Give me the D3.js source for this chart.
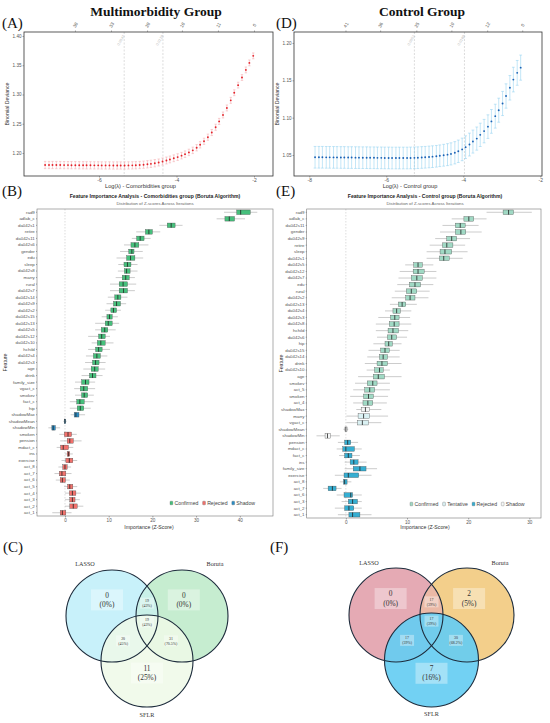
<!DOCTYPE html>
<html lang="en"><head><meta charset="utf-8">
<title>LASSO / Boruta / SFLR feature selection</title>
<script src="https://d3js.org/d3.v7.min.js"></script>
<style>
body{margin:0;background:#fff}
</style>
</head><body>
<script>
// ---------- LASSO CV curves ----------
var lamA = [-7.39,-7.29,-7.20,-7.10,-7.00,-6.90,-6.80,-6.71,-6.61,-6.51,
  -6.41,-6.32,-6.22,-6.12,-6.02,-5.93,-5.83,-5.73,-5.63,-5.53,
  -5.44,-5.34,-5.24,-5.14,-5.05,-4.95,-4.85,-4.75,-4.66,-4.56,
  -4.46,-4.36,-4.26,-4.17,-4.07,-3.97,-3.87,-3.78,-3.68,-3.58,
  -3.48,-3.39,-3.29,-3.19,-3.09,-2.99,-2.90,-2.80,-2.70,-2.60,
  -2.51,-2.41,-2.31,-2.21,-2.12,-2.02];
var devA = [1.1795,1.1795,1.1795,1.1794,1.1794,1.1793,1.1793,1.1792,1.1792,1.1791,
  1.1791,1.1790,1.1790,1.1789,1.1789,1.1788,1.1788,1.1788,1.1787,1.1787,
  1.1787,1.1787,1.1788,1.1789,1.1791,1.1795,1.1800,1.1807,1.1815,1.1825,
  1.1838,1.1855,1.1872,1.1890,1.1910,1.1930,1.1955,1.1980,1.2010,1.2045,
  1.2090,1.2140,1.2200,1.2270,1.2350,1.2440,1.2540,1.2650,1.2770,1.2900,
  1.3030,1.3160,1.3290,1.3420,1.3540,1.3660];
var sdA = [0.0062,0.0062,0.0062,0.0062,0.0062,0.0062,0.0062,0.0062,0.0062,0.0062,
  0.0062,0.0062,0.0062,0.0062,0.0062,0.0062,0.0062,0.0062,0.0062,0.0062,
  0.0062,0.0062,0.0062,0.0062,0.0062,0.0062,0.0062,0.0062,0.0062,0.0062,
  0.0060,0.0060,0.0059,0.0058,0.0058,0.0057,0.0056,0.0056,0.0055,0.0055,
  0.0054,0.0054,0.0053,0.0053,0.0052,0.0052,0.0052,0.0051,0.0051,0.0051,
  0.0050,0.0050,0.0050,0.0050,0.0050,0.0050];
var topTickA = [-6.62,-5.69,-4.76,-3.86,-2.93,-2.0];
var topLabA = ["38","33","28","18","11","0"];
var vlineA = [-5.35,-4.35];

var lamD = [-7.85,-7.75,-7.66,-7.56,-7.47,-7.37,-7.28,-7.18,-7.09,-6.99,
  -6.90,-6.80,-6.71,-6.61,-6.51,-6.42,-6.32,-6.23,-6.13,-6.04,
  -5.94,-5.85,-5.75,-5.66,-5.56,-5.46,-5.37,-5.27,-5.18,-5.08,
  -4.99,-4.89,-4.80,-4.70,-4.61,-4.51,-4.41,-4.32,-4.22,-4.13,
  -4.03,-3.94,-3.84,-3.75,-3.65,-3.56,-3.46,-3.36,-3.27,-3.17,
  -3.08,-2.98,-2.89,-2.79,-2.70,-2.60,-2.51];
var devD = [1.0470,1.0470,1.0470,1.0469,1.0469,1.0468,1.0468,1.0467,1.0467,1.0466,
  1.0466,1.0465,1.0465,1.0464,1.0464,1.0463,1.0463,1.0462,1.0462,1.0461,
  1.0461,1.0460,1.0460,1.0460,1.0460,1.0460,1.0461,1.0462,1.0464,1.0467,
  1.0470,1.0474,1.0478,1.0483,1.0490,1.0497,1.0505,1.0515,1.0530,1.0550,
  1.0575,1.0605,1.0640,1.0680,1.0720,1.0770,1.0820,1.0880,1.0950,1.1020,
  1.1100,1.1190,1.1290,1.1400,1.1510,1.1600,1.1670];
var sdD = [0.0145,0.0145,0.0145,0.0145,0.0145,0.0145,0.0145,0.0145,0.0145,0.0145,
  0.0145,0.0145,0.0145,0.0145,0.0145,0.0145,0.0145,0.0145,0.0145,0.0145,
  0.0145,0.0145,0.0145,0.0145,0.0145,0.0145,0.0145,0.0145,0.0145,0.0145,
  0.0145,0.0145,0.0145,0.0145,0.0145,0.0146,0.0147,0.0148,0.0149,0.0150,
  0.0151,0.0152,0.0153,0.0154,0.0155,0.0156,0.0157,0.0158,0.0159,0.0160,
  0.0161,0.0162,0.0163,0.0164,0.0165,0.0166,0.0168];
var topTickD = [-7.06,-6.16,-5.22,-4.31,-3.38,-2.47];
var topLabD = ["41","36","25","19","12","0"];
var vlineD = [-5.27,-3.97];

// ---------- Boruta Z-scores: [whisker lo, q1, median, q3, whisker hi] ----------
var featB = ["rad9","adlab_c","da042s1","retire","da042s11","da042s6","gender","edu","sleep","da042s8",
  "marry","rural","da042s7","da042s14","da042s9","da042s2","da042s15","da042s13","da042s5","da042s12",
  "da042s10","hchild","da042s4","da042s3","age","drink","family_size","vgact_c","smokev","fact_c",
  "hip","shadowMax","shadowMean","shadowMin","smoken","pension","mdact_c","ins","exercise","act_8",
  "act_7","act_6","act_5","act_4","act_3","act_2","act_1"];
var zB = [[36.4,39.3,40.2,42.4,44.0],[34.7,36.6,37.6,38.8,41.2],[21.6,23.4,24.3,25.2,26.9],[16.3,18.4,19.2,20.0,21.8],
  [15.3,16.4,17.2,18.1,19.6],[13.5,15.1,16.0,16.9,19.1],[12.6,14.6,15.3,15.8,17.8],[11.8,14.1,15.0,16.0,17.9],
  [12.2,13.5,14.3,15.1,16.6],[12.1,13.6,14.1,14.9,16.6],[11.6,13.1,13.9,14.7,16.0],[10.3,12.4,13.3,14.3,16.3],
  [10.3,12.4,13.4,14.3,16.0],[9.8,11.4,12.1,12.8,14.3],[9.5,11.1,11.8,12.7,14.0],[9.2,10.5,11.1,11.8,12.8],
  [8.4,9.6,10.2,10.8,12.1],[6.9,9.2,9.9,10.8,12.4],[6.9,8.3,9.1,9.8,11.6],[5.3,7.7,8.4,9.2,10.3],
  [6.1,7.4,8.2,9.2,11.1],[5.3,7.0,7.7,8.5,10.3],[4.8,6.5,7.3,8.1,9.7],[4.6,6.3,7.0,7.8,9.3],
  [4.2,6.0,6.8,7.6,9.2],[3.8,5.6,6.3,7.1,8.6],[2.3,3.8,4.7,5.5,6.9],[2.1,3.5,4.3,5.2,6.9],
  [2.3,3.8,4.4,5.2,6.6],[1.1,2.7,3.4,4.4,6.5],[1.1,2.8,3.5,4.3,5.9],[1.3,2.1,2.5,3.2,4.6],
  [-0.4,-0.15,0,0.15,0.4],[-3.8,-3.0,-2.7,-2.2,-1.1],[-1.3,-0.15,0.7,1.5,2.7],[-1.1,0.5,1.1,1.9,3.8],
  [-1.9,-1.0,-0.4,0.8,1.9],[0,0.5,0.8,1.1,1.8],[-0.8,0.2,1.0,1.8,2.8],[-1.5,-0.5,0,0.5,1.4],
  [-2.4,-1.3,-0.7,0.2,1.5],[-2.1,-1.1,-0.6,0.1,1.1],[-0.2,0.6,1.1,1.8,2.8],[0,1.0,1.7,2.5,3.6],
  [0,1.1,1.7,2.3,3.4],[0,1.1,1.9,2.8,4.2],[-2.9,-1.1,-0.6,0.2,1.5]];
var statB = ["C","C","C","C","C","C","C","C","C","C","C","C","C","C","C","C","C","C","C","C",
  "C","C","C","C","C","C","C","C","C","C","C","S","S","S","R","R","R","R","R","R",
  "R","R","R","R","R","R","R"];

var featE = ["rad9","adlab_c","da042s11","gender","da042s9","retire","sleep","da042s1","da042s5","da042s12",
  "da042s7","edu","rural","da042s2","da042s13","da042s4","da042s3","da042s8","hchild","da042s6",
  "hip","da042s15","da042s14","drink","da042s10","age","smokev","act_5","smoken","act_4",
  "shadowMax","marry","vgact_c","shadowMean","shadowMin","pension","mdact_c","fact_c","ins","family_size",
  "exercise","act_8","act_7","act_6","act_3","act_2","act_1"];
var zE = [[23.0,25.7,26.6,27.4,30.4],[17.3,19.3,20.1,20.9,23.0],[15.8,17.9,18.7,19.5,21.7],[15.4,17.9,18.8,19.6,22.2],
  [14.6,16.5,17.3,18.1,20.3],[13.7,15.8,16.5,17.5,19.5],[13.2,15.4,16.2,17.3,19.9],[13.2,15.3,16.0,16.9,19.1],
  [9.7,11.1,11.8,12.5,14.3],[8.8,11.0,11.8,12.8,14.8],[8.6,10.7,11.6,12.5,14.8],[8.4,10.4,11.3,12.2,14.3],
  [8.0,9.9,10.7,11.6,13.7],[7.5,9.8,10.5,11.3,13.5],[7.2,8.6,9.2,9.8,11.6],[6.4,7.7,8.3,8.9,10.7],
  [5.3,7.3,8.0,8.7,10.5],[4.9,7.1,7.9,8.7,10.7],[4.9,6.9,7.7,8.6,10.2],[5.1,6.8,7.5,8.3,10.0],
  [4.5,6.4,7.0,7.6,9.1],[3.7,5.7,6.4,7.1,8.8],[3.5,5.5,6.1,6.8,8.8],[3.1,5.1,5.9,6.8,9.1],
  [3.4,4.7,5.5,6.1,7.2],[2.0,4.5,5.3,6.3,9.1],[1.5,3.5,4.4,5.1,7.2],[1.2,3.1,3.9,4.7,7.2],
  [0.7,2.9,3.7,4.5,6.9],[1.2,2.8,3.6,4.4,6.7],[1.7,2.5,3.2,3.9,5.8],[0.1,2.0,2.9,3.9,6.9],
  [0.1,1.9,2.7,3.7,5.8],[-0.4,-0.15,0,0.2,0.4],[-4.8,-3.4,-3.0,-2.5,-1.0],[-1.3,-0.2,0.3,0.8,2.0],
  [-1.5,-0.5,0,1.4,2.6],[-1.1,-0.2,0.4,1.0,2.3],[-0.2,0.7,1.3,2.0,3.4],[-0.2,1.2,2.3,3.3,5.1],
  [-1.8,-0.3,0.4,2.1,4.2],[-1.0,-0.4,-0.2,0.2,0.9],[-3.7,-2.9,-2.2,-1.6,-0.7],[-1.5,-0.3,0.8,1.1,2.6],
  [-0.7,0.4,1.1,1.9,2.6],[-1.8,-0.2,0.5,1.3,2.6],[-1.3,0.5,1.1,2.3,4.2]];
var statE = ["C","C","C","C","C","C","C","C","C","C","C","C","C","C","C","C","C","C","C","C",
  "C","C","C","C","C","C","C","C","C","C","S","T","T","S","S","R","R","R","R","R",
  "R","R","R","R","R","R","R"];

// ---------- Venn counts (regions: A, B, AB, ABC, AC, BC, C) ----------
var setNames = ["LASSO","Boruta","SFLR"];
var countC = ["0","0","19","19","20","31","11"];
var pctC = ["(0%)","(0%)","(43%)","(43%)","(45%)","(70.5%)","(25%)"];
var countF = ["0","2","17","17","17","30","7"];
var pctF = ["(0%)","(5%)","(39%)","(39%)","(39%)","(68.2%)","(16%)"];

var W = 550, H = 723;
var sans = "Liberation Sans, Arial, sans-serif";
var serif = "Liberation Serif, Times New Roman, serif";
var svg = d3.select("body").append("svg").attr("width", W).attr("height", H)
  .attr("font-family", sans);

function styleAxis(sel, fs) {
  sel.select(".domain").remove();
  sel.selectAll("line").attr("stroke", "#555").attr("stroke-width", 0.5);
  sel.attr("font-family", sans);
  sel.selectAll("text").attr("font-size", fs).attr("fill", "#555");
}

// panel letters and group titles
[["(A)",2,28],["(D)",276,28],["(B)",2,196],["(E)",276,196],["(C)",3,552],["(F)",270,552]].forEach(function(p){
  svg.append("text").attr("x",p[1]).attr("y",p[2]).attr("font-family",serif)
    .attr("font-size",15).attr("fill","#111").text(p[0]);
});
[["Multimorbidity Group",156],["Control Group",422]].forEach(function(p){
  svg.append("text").attr("x",p[1]).attr("y",16).attr("text-anchor","middle")
    .attr("font-family",serif).attr("font-weight","bold").attr("font-size",13.5).attr("fill","#111").text(p[0]);
});

function cvPanel(g) {
  var x = d3.scaleLinear().domain(g.xDom).range([g.L, g.R]);
  var y = d3.scaleLinear().domain(g.yDom).range([g.B, g.T]);
  var p = svg.append("g");
  p.selectAll(".vl").data(g.vline).join("line")
    .attr("x1", d => x(d)).attr("x2", d => x(d)).attr("y1", g.T).attr("y2", g.B)
    .attr("stroke", "#c4c4c4").attr("stroke-width", 0.6).attr("stroke-dasharray", "2,1.5");
  p.selectAll(".vt").data(g.vline).join("text")
    .attr("transform", d => "translate(" + (x(d) - 5) + "," + (g.T + 14) + ") rotate(-60)")
    .attr("font-size", 3.8).attr("fill", "#bbb").text(d => Math.exp(d).toFixed(4));

  var pts = g.lam.map(function(l, i){ return {l: l, d: g.dev[i], s: g.sd[i]}; });
  var eb = p.append("g").attr("stroke", g.barCol).attr("stroke-width", 0.5);
  eb.selectAll(".e").data(pts).join("line")
    .attr("x1", d => x(d.l)).attr("x2", d => x(d.l)).attr("y1", d => y(d.d - d.s)).attr("y2", d => y(d.d + d.s));
  eb.selectAll(".ct").data(pts).join("line")
    .attr("x1", d => x(d.l) - g.cap).attr("x2", d => x(d.l) + g.cap).attr("y1", d => y(d.d + d.s)).attr("y2", d => y(d.d + d.s));
  eb.selectAll(".cb").data(pts).join("line")
    .attr("x1", d => x(d.l) - g.cap).attr("x2", d => x(d.l) + g.cap).attr("y1", d => y(d.d - d.s)).attr("y2", d => y(d.d - d.s));
  p.selectAll(".pt").data(pts).join("circle")
    .attr("cx", d => x(d.l)).attr("cy", d => y(d.d)).attr("r", 0.95).attr("fill", g.ptCol);

  p.append("rect").attr("x", g.L).attr("y", g.T).attr("width", g.R - g.L).attr("height", g.B - g.T)
    .attr("fill", "none").attr("stroke", "#333").attr("stroke-width", 0.8);

  p.append("g").attr("transform", "translate(0," + g.B + ")")
    .call(d3.axisBottom(x).tickValues(g.xt).tickSize(1.5).tickPadding(1).tickFormat(d => String(d)))
    .call(s => styleAxis(s, 5));
  p.append("g").attr("transform", "translate(" + g.L + ",0)")
    .call(d3.axisLeft(y).tickValues(g.yt).tickSize(1.5).tickPadding(1).tickFormat(d3.format(".2f")))
    .call(s => styleAxis(s, 4.6));
  var ta = p.append("g").attr("transform", "translate(0," + g.T + ")")
    .call(d3.axisTop(x).tickValues(g.top).tickSize(1.5).tickFormat((d, i) => g.topLab[i]))
    .call(s => styleAxis(s, 4.6));
  ta.selectAll("text").attr("y", 0).attr("dy", "0.35em").attr("text-anchor", "middle")
    .attr("transform", "translate(0,-7) rotate(-60)");

  p.append("text").attr("x", (g.L + g.R) / 2 - 8).attr("y", g.B + 12).attr("text-anchor", "middle")
    .attr("font-size", 5.6).attr("fill", "#333").text(g.xlab);
  p.append("text").attr("transform", "translate(" + g.ylx + "," + ((g.T + g.B) / 2) + ") rotate(-90)")
    .attr("text-anchor", "middle").attr("font-size", 5.2).attr("fill", "#333").text("Binomial Deviance");
}

cvPanel({lam: lamA, dev: devA, sd: sdA, xDom: [-7.935, -1.51], yDom: [1.1607, 1.4068],
  L: 24, R: 273, T: 32, B: 176, xt: [-6, -4, -2], yt: [1.20, 1.25, 1.30, 1.35, 1.40],
  top: topTickA, topLab: topLabA, vline: vlineA, ptCol: "#e3242b", barCol: "#f3a3a6",
  xlab: "Log(\u03bb) - Comorbidities group", cap: 1.2, ylx: 9});
cvPanel({lam: lamD, dev: devD, sd: sdD, xDom: [-8.397, -1.956], yDom: [1.0219, 1.2147],
  L: 294, R: 542, T: 32, B: 176, xt: [-8, -6, -4, -2], yt: [1.05, 1.10, 1.15, 1.20],
  top: topTickD, topLab: topLabD, vline: vlineD, ptCol: "#1b62b5", barCol: "#86cdef",
  xlab: "Log(\u03bb) - Control group", cap: 1.4, ylx: 279});

var statName = {C: "Confirmed", T: "Tentative", R: "Rejected", S: "Shadow"};

function boxPanel(g) {
  var x = d3.scaleLinear().domain(g.xDom).range([g.L, g.R]);
  var y = d3.scaleBand().domain(g.feat).range([g.T, g.B]);
  var bw = y.bandwidth(), bh = bw * 0.7;
  var p = svg.append("g");
  p.append("text").attr("x", g.cx).attr("y", 198).attr("text-anchor", "middle")
    .attr("font-size", 5.1).attr("font-weight", "bold").attr("fill", "#222").text(g.title);
  p.append("text").attr("x", g.cx).attr("y", 205).attr("text-anchor", "middle")
    .attr("font-size", 4.3).attr("fill", "#666").text("Distribution of Z-scores Across Iterations");

  p.append("line").attr("x1", x(0)).attr("x2", x(0)).attr("y1", g.T).attr("y2", g.B)
    .attr("stroke", "#bbb").attr("stroke-width", 0.5).attr("stroke-dasharray", "1.5,1.5");

  var rows = g.feat.map(function(f, i){ return {f: f, z: g.z[i], s: g.stat[i]}; });
  var r = p.selectAll(".row").data(rows).join("g")
    .attr("transform", d => "translate(0," + (y(d.f) + bw / 2) + ")");
  r.append("line").attr("x1", d => x(d.z[0])).attr("x2", d => x(d.z[4]))
    .attr("stroke", "#999").attr("stroke-width", 0.5);
  r.append("rect").attr("x", d => x(d.z[1])).attr("width", d => x(d.z[3]) - x(d.z[1]))
    .attr("y", -bh / 2).attr("height", bh).attr("fill", d => g.col[d.s])
    .attr("stroke", "#4a4a4a").attr("stroke-width", 0.35);
  r.append("line").attr("x1", d => x(d.z[2])).attr("x2", d => x(d.z[2]))
    .attr("y1", -bh / 2).attr("y2", bh / 2).attr("stroke", "#222").attr("stroke-width", 0.8);

  p.append("rect").attr("x", g.L).attr("y", g.T).attr("width", g.R - g.L).attr("height", g.B - g.T)
    .attr("fill", "none").attr("stroke", "#777").attr("stroke-width", 0.6);

  p.append("g").attr("transform", "translate(" + g.L + ",0)")
    .call(d3.axisLeft(y).tickSize(1).tickPadding(1.2))
    .call(s => styleAxis(s, 4.4));
  p.append("g").attr("transform", "translate(0," + g.B + ")")
    .call(d3.axisBottom(x).tickValues(g.xt).tickSize(1.5).tickPadding(1))
    .call(s => styleAxis(s, 4.6));
  p.append("text").attr("x", g.xlx).attr("y", 529).attr("text-anchor", "middle")
    .attr("font-size", 5.2).attr("fill", "#333").text("Importance (Z-Score)");
  p.append("text").attr("transform", "translate(" + g.ylx + "," + ((g.T + g.B) / 2) + ") rotate(-90)")
    .attr("text-anchor", "middle").attr("font-size", 5.2).attr("fill", "#333").text("Feature");

  var lx = g.legX;
  g.legend.forEach(function(k){
    p.append("rect").attr("x", lx).attr("y", g.legY - 1.8).attr("width", 2.8).attr("height", 3.6).attr("rx", 0.6)
      .attr("fill", g.col[k]).attr("stroke", "#555").attr("stroke-width", 0.3);
    var t = p.append("text").attr("x", lx + 4.5).attr("y", g.legY).attr("dy", "0.35em")
      .attr("font-size", 5.2).attr("fill", "#444").text(statName[k]);
    lx += 4.5 + t.node().getComputedTextLength() + 4.2;
  });
}

boxPanel({feat: featB, z: zB, stat: statB, xDom: [-6.4, 47.6], L: 37, R: 273, T: 209, B: 516,
  xt: [0, 10, 20, 30, 40], col: {C: "#46c07c", R: "#f2716c", S: "#2a8dc5"}, legend: ["C", "R", "S"],
  legX: 170, legY: 503, cx: 155, xlx: 149, ylx: 7,
  title: "Feature Importance Analysis - Comorbidities group (Boruta Algorithm)"});
boxPanel({feat: featE, z: zE, stat: statE, xDom: [-6.4, 31.9], L: 306.7, R: 541, T: 209, B: 518,
  xt: [0, 10, 20, 30], col: {C: "#a0d9c4", T: "#daf1f3", R: "#35aed2", S: "#f5f7f7"}, legend: ["C", "T", "R", "S"],
  legX: 410, legY: 504, cx: 425, xlx: 425, ylx: 283,
  title: "Feature Importance Analysis - Control group (Boruta Algorithm)"});

// ---------- Venn diagrams ----------
// label anchor offsets for regions A, B, AB, ABC, AC, BC, C (in units of radius)
var regOff = [[-0.87, -0.35, 1], [0.80, -0.35, 1], [0, -0.28, 0], [0, 0.13, 0],
  [-0.52, 0.54, 0], [0.52, 0.54, 0], [0, 1.24, 1]];

function venn(g) {
  var c = [{x: g.mx - g.hd, y: g.ty}, {x: g.mx + g.hd, y: g.ty}, {x: g.mx, y: g.ty + g.dy}];
  var p = svg.append("g");
  var id = "clip" + g.key;
  p.append("clipPath").attr("id", id).append("circle").attr("cx", c[0].x).attr("cy", c[0].y).attr("r", g.r);
  p.append("circle").attr("cx", c[0].x).attr("cy", c[0].y).attr("r", g.r).attr("fill", g.col[0]);
  p.append("circle").attr("cx", c[1].x).attr("cy", c[1].y).attr("r", g.r).attr("fill", g.col[1]);
  p.append("circle").attr("cx", c[1].x).attr("cy", c[1].y).attr("r", g.r).attr("fill", g.ab)
    .attr("clip-path", "url(#" + id + ")");
  p.append("circle").attr("cx", c[2].x).attr("cy", c[2].y).attr("r", g.r).attr("fill", g.col[2])
    .attr("fill-opacity", g.cOp);
  p.selectAll(".ring").data(c).join("circle").attr("cx", d => d.x).attr("cy", d => d.y).attr("r", g.r)
    .attr("fill", "none").attr("stroke", "#1d2c3c").attr("stroke-width", 1.1);

  var lab = regOff.map(function(o, i){
    return {x: g.mx + o[0] * g.r, y: g.ty + o[1] * g.r, big: o[2], n: g.count[i], pc: g.pct[i]};
  });
  var t = p.selectAll(".lab").data(lab).join("g").attr("transform", d => "translate(" + d.x + "," + d.y + ")");
  t.append("rect").attr("x", d => d.big ? -16 : -7).attr("y", d => d.big ? -10.5 : -5.5)
    .attr("width", d => d.big ? 32 : 14).attr("height", d => d.big ? 21 : 11)
    .attr("fill", "#fff").attr("fill-opacity", 0.35);
  t.append("text").attr("y", d => d.big ? -2.2 : -1.2).attr("text-anchor", "middle")
    .attr("font-family", serif).attr("font-size", d => d.big ? 7.4 : 3.9).attr("fill", "#333").text(d => d.n);
  t.append("text").attr("y", d => d.big ? 7 : 3.8).attr("text-anchor", "middle")
    .attr("font-family", serif).attr("font-size", d => d.big ? 7.4 : 3.9).attr("fill", "#333").text(d => d.pc);

  var sl = [[c[0].x - 27, g.ty - 52], [c[1].x + 33, g.ty - 52], [g.mx, c[2].y + 54]];
  p.selectAll(".sn").data(setNames).join("text")
    .attr("x", (d, i) => sl[i][0]).attr("y", (d, i) => sl[i][1]).attr("dy", "0.35em").attr("text-anchor", "middle")
    .attr("font-family", serif).attr("font-size", 6.2).attr("fill", "#333").text(d => d);
}

venn({key: "C", mx: 147, ty: 616, hd: 35, dy: 45, r: 46, count: countC, pct: pctC,
  col: ["#c8f1fa", "#c6edd0", "#eff9e7"], ab: "#c9f0e8", cOp: 0.85});
venn({key: "F", mx: 431.5, ty: 615, hd: 35.5, dy: 45, r: 47, count: countF, pct: pctF,
  col: ["#e5aab4", "#f3cf8b", "#66cdf2"], ab: "#ebb9a6", cOp: 0.92});
</script>
</body></html>
